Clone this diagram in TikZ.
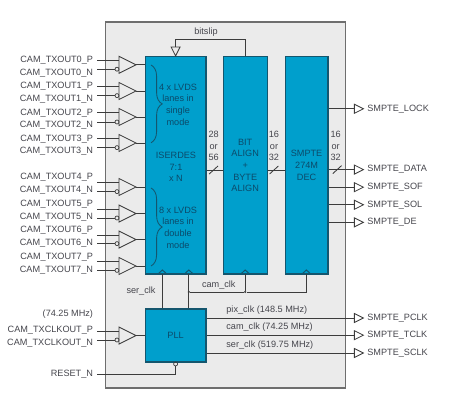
\documentclass[tikz,border=0pt]{standalone}
\usepackage{fontspec}
\setmainfont{Liberation Sans}
\usetikzlibrary{shapes.geometric,decorations.pathreplacing}
\definecolor{panelgray}{HTML}{EBEBEB}
\definecolor{panelline}{HTML}{6E6E6E}
\definecolor{blockblue}{HTML}{009FCC}
\definecolor{blockline}{HTML}{14566E}
\definecolor{blocktext}{HTML}{0C4A6A}
\definecolor{wiregray}{HTML}{3C3C3C}
\definecolor{labelgray}{HTML}{45454C}
\begin{document}
\begin{tikzpicture}[
    font=\fontsize{6.5}{8.3}\selectfont,
    wire/.style={draw=wiregray, line width=0.6pt},
    panel/.style={rectangle, draw=panelline, fill=panelgray, line width=1pt, minimum width=6cm, minimum height=9.15cm},
    block/.style={rectangle, draw=blockline, fill=blockblue, line width=0.8pt, text=blocktext, align=center, inner sep=0pt, minimum height=5.43cm},
    blocktxt/.style={text=blocktext, align=center, inner sep=0pt},
    lbl/.style={text=labelgray, align=center, inner sep=0pt},
    inlbl/.style={text=labelgray, anchor=east, inner ysep=0pt, inner xsep=0.1cm, outer sep=0pt},
    outlbl/.style={text=labelgray, anchor=west, inner ysep=0pt, inner xsep=0.1cm, outer sep=0pt},
    buf/.style={isosceles triangle, isosceles triangle stretches, draw=wiregray, line width=0.6pt, inner sep=0pt, outer sep=0pt, minimum width=0.425cm, minimum height=0.425cm, anchor=lower side},
    outbuf/.style={isosceles triangle, isosceles triangle stretches, draw=wiregray, line width=0.6pt, inner sep=0pt, outer sep=0pt, minimum width=0.225cm, minimum height=0.225cm, anchor=lower side},
    nub/.style={circle, draw=wiregray, line width=0.5pt, inner sep=0pt, outer sep=0pt, minimum size=0.1cm},
    chev/.style={isosceles triangle, isosceles triangle stretches, shape border rotate=90, draw=blockline, line width=0.7pt, inner sep=0pt, outer sep=0pt, minimum width=0.22cm, minimum height=0.1cm, anchor=lower side},
    junction/.style={circle, fill=wiregray, inner sep=0pt, minimum size=0.06cm}
]
\useasboundingbox (0,0) rectangle (11.25,10);

% Panel
\node[panel] (panel) at (5.64,4.875) {};

% Blocks
\node[block, minimum width=1.52cm] (iserdes) at (4.39,5.865) {};
\node[block, minimum width=1.10cm] (bitalign) at (6.13,5.865) {BIT\\ALIGN\\+\\BYTE\\ALIGN};
\node[block, minimum width=1.07cm] (dec) at (7.665,5.865) {SMPTE\\274M\\DEC};
\node[block, minimum width=1.52cm, minimum height=1.325cm] (pll) at (4.39,1.6125) {PLL};

% Text inside ISERDES
\node[blocktxt] (single) at (4.45,7.39) {4 x LVDS\\lanes in\\single\\mode};
\node[blocktxt] (iserdestxt) at (4.40,5.825) {ISERDES\\7:1\\x N};
\node[blocktxt] (double) at (4.45,4.31) {8 x LVDS\\lanes in\\double\\mode};

% Braces
\coordinate (brace1a) at (3.775,8.375);
\coordinate (brace1b) at (3.775,6.43);
\coordinate (brace2a) at (3.775,5.3);
\coordinate (brace2b) at (3.775,3.35);
\draw[draw=blockline, line width=0.6pt, decorate, decoration={brace, amplitude=0.28cm}] (brace1a) -- (brace1b);
\draw[draw=blockline, line width=0.6pt, decorate, decoration={brace, amplitude=0.28cm}] (brace2a) -- (brace2b);

% Input buffers
\node[buf] (buf0) at (2.975,8.38) {};
\node[buf] (buf1) at (2.975,7.725) {};
\node[buf] (buf2) at (2.975,7.075) {};
\node[buf] (buf3) at (2.975,6.425) {};
\node[buf] (buf4) at (2.975,5.325) {};
\node[buf] (buf5) at (2.975,4.66) {};
\node[buf] (buf6) at (2.975,4.01) {};
\node[buf] (buf7) at (2.975,3.35) {};
\node[buf] (buf8) at (2.975,1.61) {};

% Inverting pins
\node[nub] (nub0) at (2.925,8.27) {};
\node[nub] (nub1) at (2.925,7.61) {};
\node[nub] (nub2) at (2.925,6.95) {};
\node[nub] (nub3) at (2.925,6.31) {};
\node[nub] (nub4) at (2.925,5.21) {};
\node[nub] (nub5) at (2.925,4.55) {};
\node[nub] (nub6) at (2.925,3.91) {};
\node[nub] (nub7) at (2.925,3.24) {};
\node[nub] (nub8) at (2.925,1.5) {};

% Plain pins
\coordinate (pin0) at (2.975,8.5);
\coordinate (pin1) at (2.975,7.85);
\coordinate (pin2) at (2.975,7.19);
\coordinate (pin3) at (2.975,6.53);
\coordinate (pin4) at (2.975,5.43);
\coordinate (pin5) at (2.975,4.775);
\coordinate (pin6) at (2.975,4.125);
\coordinate (pin7) at (2.975,3.47);
\coordinate (pin8) at (2.975,1.725);

% Input labels
\node[inlbl] (cam0p) at (2.425,8.5) {CAM\_TXOUT0\_P};
\node[inlbl] (cam0n) at (2.425,8.18) {CAM\_TXOUT0\_N};
\node[inlbl] (cam1p) at (2.425,7.85) {CAM\_TXOUT1\_P};
\node[inlbl] (cam1n) at (2.425,7.51) {CAM\_TXOUT1\_N};
\node[inlbl] (cam2p) at (2.425,7.18) {CAM\_TXOUT2\_P};
\node[inlbl] (cam2n) at (2.425,6.87) {CAM\_TXOUT2\_N};
\node[inlbl] (cam3p) at (2.425,6.53) {CAM\_TXOUT3\_P};
\node[inlbl] (cam3n) at (2.425,6.22) {CAM\_TXOUT3\_N};
\node[inlbl] (cam4p) at (2.425,5.56) {CAM\_TXOUT4\_P};
\node[inlbl] (cam4n) at (2.425,5.24) {CAM\_TXOUT4\_N};
\node[inlbl] (cam5p) at (2.425,4.89) {CAM\_TXOUT5\_P};
\node[inlbl] (cam5n) at (2.425,4.58) {CAM\_TXOUT5\_N};
\node[inlbl] (cam6p) at (2.425,4.25) {CAM\_TXOUT6\_P};
\node[inlbl] (cam6n) at (2.425,3.92) {CAM\_TXOUT6\_N};
\node[inlbl] (cam7p) at (2.425,3.58) {CAM\_TXOUT7\_P};
\node[inlbl] (cam7n) at (2.425,3.25) {CAM\_TXOUT7\_N};
\node[inlbl] (freq) at (2.425,2.15) {(74.25 MHz)};
\node[inlbl] (clkp) at (2.425,1.75) {CAM\_TXCLKOUT\_P};
\node[inlbl] (clkn) at (2.425,1.43) {CAM\_TXCLKOUT\_N};
\node[inlbl] (reset) at (2.425,0.65) {RESET\_N};

% Input wires
\draw[wire] (cam0p.east |- pin0) -- (pin0);
\draw[wire] (cam0n.east |- nub0) -- (nub0.west);
\draw[wire] (cam1p.east |- pin1) -- (pin1);
\draw[wire] (cam1n.east |- nub1) -- (nub1.west);
\draw[wire] (cam2p.east |- pin2) -- (pin2);
\draw[wire] (cam2n.east |- nub2) -- (nub2.west);
\draw[wire] (cam3p.east |- pin3) -- (pin3);
\draw[wire] (cam3n.east |- nub3) -- (nub3.west);
\draw[wire] (cam4p.east |- pin4) -- (pin4);
\draw[wire] (cam4n.east |- nub4) -- (nub4.west);
\draw[wire] (cam5p.east |- pin5) -- (pin5);
\draw[wire] (cam5n.east |- nub5) -- (nub5.west);
\draw[wire] (cam6p.east |- pin6) -- (pin6);
\draw[wire] (cam6n.east |- nub6) -- (nub6.west);
\draw[wire] (cam7p.east |- pin7) -- (pin7);
\draw[wire] (cam7n.east |- nub7) -- (nub7.west);
\draw[wire] (clkp.east |- pin8) -- (pin8);
\draw[wire] (clkn.east |- nub8) -- (nub8.west);

% Buffers to blocks
\draw[wire] (buf0.apex) -- (iserdes.west |- buf0.apex);
\draw[wire] (buf1.apex) -- (iserdes.west |- buf1.apex);
\draw[wire] (buf2.apex) -- (iserdes.west |- buf2.apex);
\draw[wire] (buf3.apex) -- (iserdes.west |- buf3.apex);
\draw[wire] (buf4.apex) -- (iserdes.west |- buf4.apex);
\draw[wire] (buf5.apex) -- (iserdes.west |- buf5.apex);
\draw[wire] (buf6.apex) -- (iserdes.west |- buf6.apex);
\draw[wire] (buf7.apex) -- (iserdes.west |- buf7.apex);
\draw[wire] (buf8.apex) -- (pll.west |- buf8.apex);

% Reset
\node[nub] (resetnub) at (4.39,0.9) {};
\draw[wire] (reset.east) -| (resetnub.south);

% Bitslip
\coordinate (slipbend) at (4.39,9.02);
\node[outbuf, shape border rotate=270] (slip) at (4.39,8.825) {};
\node[lbl] (sliplbl) at (5.15,9.2) {bitslip};
\draw[wire] (bitalign.north) |- (slipbend) -- (slip.lower side);

% Buses
\coordinate (bus1) at (5.34,5.75);
\coordinate (bus2) at (6.85,5.75);
\node[lbl] (bus1lbl) at (5.34,6.35) {28\\or\\56};
\node[lbl] (bus2lbl) at (6.85,6.35) {16\\or\\32};
\node[lbl] (bus3lbl) at (8.39,6.35) {16\\or\\32};
\draw[wire] (iserdes.east |- bus1) -- (bitalign.west |- bus1);
\draw[wire] (bitalign.east |- bus2) -- (dec.west |- bus2);
\draw[wire] ([xshift=-0.11cm,yshift=-0.1cm]bus1) -- ([xshift=0.11cm,yshift=0.1cm]bus1);
\draw[wire] ([xshift=-0.11cm,yshift=-0.1cm]bus2) -- ([xshift=0.11cm,yshift=0.1cm]bus2);

% Outputs
\node[outbuf] (outlock) at (8.86,7.28) {};
\node[outbuf] (outdata) at (8.86,5.76) {};
\node[outbuf] (outsof) at (8.86,5.32) {};
\node[outbuf] (outsol) at (8.86,4.88) {};
\node[outbuf] (outde) at (8.86,4.44) {};
\node[outbuf] (outpclk) at (8.86,2.05) {};
\node[outbuf] (outtclk) at (8.86,1.62) {};
\node[outbuf] (outsclk) at (8.86,1.175) {};
\node[outlbl] (locklbl) at (outlock.apex) {SMPTE\_LOCK};
\node[outlbl] (datalbl) at (outdata.apex) {SMPTE\_DATA};
\node[outlbl] (soflbl) at (outsof.apex) {SMPTE\_SOF};
\node[outlbl] (sollbl) at (outsol.apex) {SMPTE\_SOL};
\node[outlbl] (delbl) at (outde.apex) {SMPTE\_DE};
\node[outlbl] (pclklbl) at (outpclk.apex) {SMPTE\_PCLK};
\node[outlbl] (tclklbl) at (outtclk.apex) {SMPTE\_TCLK};
\node[outlbl] (sclklbl) at (outsclk.apex) {SMPTE\_SCLK};
\draw[wire] (dec.east |- outlock.lower side) -- (outlock.lower side);
\draw[wire] (dec.east |- outdata.lower side) -- (outdata.lower side);
\draw[wire] (dec.east |- outsof.lower side) -- (outsof.lower side);
\draw[wire] (dec.east |- outsol.lower side) -- (outsol.lower side);
\draw[wire] (dec.east |- outde.lower side) -- (outde.lower side);
\draw[wire] (pll.east |- outpclk.lower side) -- (outpclk.lower side);
\draw[wire] (pll.east |- outtclk.lower side) -- (outtclk.lower side);
\draw[wire] (pll.east |- outsclk.lower side) -- (outsclk.lower side);
\coordinate (bus3) at (8.43,5.76);
\draw[wire] ([xshift=-0.11cm,yshift=-0.1cm]bus3) -- ([xshift=0.11cm,yshift=0.1cm]bus3);

% Clock labels
\node[outlbl, inner xsep=0pt] (pixlbl) at (5.66,2.25) {pix\_clk (148.5 MHz)};
\node[outlbl, inner xsep=0pt] (camlbl) at (5.66,1.81) {cam\_clk (74.25 MHz)};
\node[outlbl, inner xsep=0pt] (serlbl) at (5.66,1.375) {ser\_clk (519.75 MHz)};
\node[lbl] (serclk) at (3.525,2.725) {ser\_clk};
\node[lbl] (camclk) at (5.47,2.875) {cam\_clk};

% Clock inputs
\node[chev] (chev1) at (4.06,3.15) {};
\node[chev] (chev2) at (4.72,3.15) {};
\node[chev] (chev3) at (6.13,3.15) {};
\node[chev] (chev4) at (7.66,3.15) {};
\node[junction] (dot1) at (4.72,2.7) {};
\node[junction] (dot2) at (6.13,2.7) {};
\draw[wire] (pll.north -| chev1) -- (chev1.lower side);
\draw[wire] (pll.north -| chev2) -- (chev2.lower side);
\draw[wire] (dot1) -- (dot2);
\draw[wire] (dot2) -- (dot2 -| chev4) -- (chev4.lower side);
\draw[wire] (dot2) -- (chev3.lower side);
\end{tikzpicture}
\end{document}
